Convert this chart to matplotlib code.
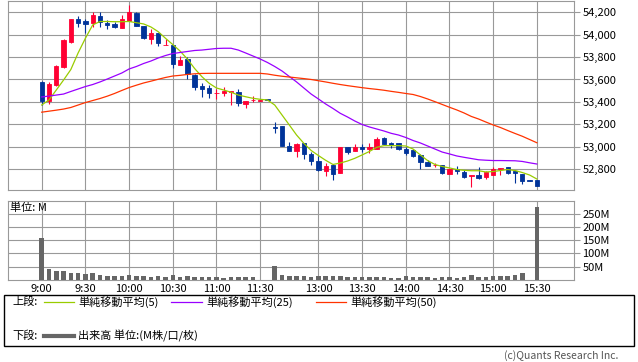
import matplotlib
matplotlib.use('Agg')
import matplotlib.pyplot as plt
from matplotlib.patches import Rectangle
from matplotlib.lines import Line2D
from matplotlib.ticker import FixedLocator, FuncFormatter, NullLocator

plt.rcParams['font.family'] = ['Noto Sans CJK JP', 'DejaVu Sans']

# ---------------- data ----------------
morning = [f"{h}:{m:02d}" for h in (9, 10) for m in range(0, 60, 5)] + [f"11:{m:02d}" for m in range(0, 35, 5)]
afternoon = [f"12:{m:02d}" for m in range(30, 60, 5)] + [f"{h}:{m:02d}" for h in (13, 14) for m in range(0, 60, 5)] + [f"15:{m:02d}" for m in range(0, 35, 5)]
times = morning + ["11:35"] + afternoon

opens = [53580, 53411, 53551, 53714, 53935, 54140, 54122, 54102, 54167, 54107,
         54096, 54062, 54125, 54196, 54078, 53962, 54012, 53905, 53905, 53730,
         53780, 53641, 53545, 53521, 53475, 53477, 53488, 53491, 53378, 53413,
         53410, 53426,
         53180, 53185, 53006, 52964, 53030, 52932, 52875, 52786, 52836, 52768,
         53000, 52961, 53000, 52979, 52982, 53074, 53033, 53030, 52978, 52970,
         52925, 52866, 52834, 52836, 52755, 52800, 52776, 52740, 52750, 52725,
         52750, 52805, 52815, 52780, 52760, 52700, 52700]
highs = [53586, 53580, 53725, 53962, 54140, 54167, 54137, 54205, 54205, 54131,
         54116, 54176, 54265, 54205, 54078, 54051, 54015, 53962, 53910, 53810,
         53804, 53646, 53571, 53551, 53512, 53530, 53497, 53515, 53408, 53455,
         53417, 53426,
         53223, 53185, 53039, 53036, 53036, 52955, 52915, 52857, 52842, 53000,
         53000, 53024, 53024, 53030, 53083, 53090, 53039, 53033, 52998, 52978,
         52933, 52884, 52857, 52836, 52805, 52826, 52790, 52745, 52816, 52780,
         52816, 52812, 52822, 52780, 52760, 52700, 52700]
lows = [53372, 53381, 53545, 53703, 53930, 54066, 54012, 54071, 54071, 54051,
        54057, 54062, 54125, 54078, 53960, 53917, 53900, 53905, 53700, 53730,
        53604, 53505, 53440, 53437, 53426, 53455, 53372, 53366, 53348, 53401,
        53408, 53417,
        53120, 53005, 52964, 52910, 52887, 52836, 52786, 52740, 52700, 52768,
        52932, 52961, 52950, 52940, 52982, 53024, 52990, 52970, 52925, 52910,
        52805, 52830, 52820, 52755, 52755, 52760, 52720, 52640, 52708, 52710,
        52745, 52745, 52755, 52675, 52670, 52695, 52645]
closes = [53408, 53560, 53723, 53953, 54140, 54102, 54096, 54176, 54113, 54087,
          54071, 54140, 54205, 54078, 53973, 54015, 53929, 53912, 53736, 53774,
          53646, 53530, 53515, 53482, 53479, 53497, 53497, 53387, 53408, 53417,
          53417, 53417,
          53168, 53005, 52964, 53027, 52932, 52875, 52792, 52827, 52756, 53000,
          52955, 52997, 52979, 53000, 53068, 53024, 53015, 52978, 52947, 52920,
          52866, 52830, 52838, 52768, 52797, 52780, 52727, 52745, 52720, 52770,
          52805, 52810, 52765, 52765, 52695, 52695, 52645]

ma5 = [53372, 53417, 53506, 53595, 53689, 53837, 53968, 54087, 54118, 54118,
       54116, 54116, 54118, 54107, 54096, 54069, 54027, 53968, 53912, 53854,
       53783, 53698, 53625, 53566, 53524, 53506, 53486, 53461, 53446, 53432,
       53423, 53417,
       53372, 53283, 53194, 53104, 53030, 52966, 52921, 52878, 52841, 52854,
       52872, 52896, 52926, 52957, 52994, 53009, 53009, 53009, 53006, 52979,
       52926, 52876, 52841, 52823, 52810, 52796, 52789, 52785, 52785, 52774,
       52778, 52787, 52796, 52787, 52769, 52747, 52711]
ma25 = [53444, 53452, 53461, 53470, 53493, 53515, 53537, 53555, 53578, 53604,
        53631, 53658, 53694, 53716, 53743, 53765, 53792, 53814, 53832, 53841,
        53850, 53859, 53863, 53870, 53877, 53879, 53879, 53863, 53837, 53810,
        53783, 53752,
        53716, 53676, 53627, 53578, 53524, 53470, 53426, 53381, 53341, 53298,
        53265, 53229, 53198, 53176, 53158, 53140, 53119, 53104, 53082, 53055,
        53033, 53006, 52979, 52952, 52935, 52917, 52905, 52894, 52883, 52879,
        52876, 52876, 52875, 52874, 52868, 52856, 52845]
ma50 = [53308, 53317, 53326, 53336, 53350, 53372, 53394, 53412, 53430, 53451,
        53475, 53502, 53528, 53549, 53569, 53585, 53602, 53618, 53631, 53637,
        53645, 53651, 53654, 53655, 53655, 53655, 53655, 53655, 53655, 53655,
        53655, 53649,
        53638, 53629, 53622, 53615, 53608, 53600, 53589, 53578, 53566, 53555,
        53545, 53536, 53527, 53519, 53512, 53504, 53494, 53485, 53475, 53466,
        53448, 53426, 53402, 53377, 53352, 53328, 53301, 53270, 53247, 53220,
        53194, 53171, 53144, 53118, 53093, 53064, 53035]

volume_m = [159, 41, 34, 34, 26, 26, 23, 26, 19, 15,
            15, 15, 19, 15, 15, 11, 15, 11, 19, 11,
            15, 11, 11, 11, 11, 8, 11, 11, 11, 11,
            1, 0,
            53, 19, 15, 15, 15, 11, 15, 15, 15, 15,
            11, 11, 11, 11, 11, 11, 8, 8, 15, 11,
            11, 11, 8, 11, 11, 8, 11, 19, 11, 11,
            15, 15, 15, 19, 26, 1, 273]

tick_labels = ["9:00", "9:30", "10:00", "10:30", "11:00", "11:30",
               "13:00", "13:30", "14:00", "14:30", "15:00", "15:30"]
price_ticks = [52800, 53000, 53200, 53400, 53600, 53800, 54000, 54200]
vol_ticks = [50, 100, 150, 200, 250]

# ---------------- styling ----------------
UP = '#FF0033'
DOWN = '#003399'
GRID = '#999999'
C5, C25, C50 = '#99CC00', '#9900FF', '#FF3300'
VOLC = '#666666'

W, H = 638, 362
fig = plt.figure(figsize=(W / 100, H / 100), dpi=100)

def fx(px):
    return px / W

def fy(py):
    return 1 - py / H

left_px, right_px = 8, 574
ax = fig.add_axes([fx(left_px), fy(190), fx(right_px - left_px), (190 - 1) / H])
axv = fig.add_axes([fx(left_px), fy(280), fx(right_px - left_px), (280 - 201) / H])

xs = list(range(len(times)))
xlim = (-4.63, 73.1)
tick_pos = [times.index(t) for t in tick_labels]

for a in (ax, axv):
    a.set_xlim(*xlim)
    a.xaxis.set_major_locator(FixedLocator(tick_pos))
    a.grid(True, color=GRID, linewidth=0.8)
    a.set_axisbelow(True)
    for s in a.spines.values():
        s.set_color(GRID)
        s.set_linewidth(0.8)
    a.yaxis.tick_right()
    a.tick_params(axis='y', colors=GRID, labelcolor='black', length=4, width=0.8,
                  labelsize=8, pad=2)
    a.tick_params(axis='x', length=0, labelsize=8, pad=3)

# candles
for i, o, h, l, c in zip(xs, opens, highs, lows, closes):
    col = UP if c >= o else DOWN
    ax.vlines(i, l, h, color=col, linewidth=0.8, zorder=2)
    ax.bar(i, max(abs(c - o), 1), bottom=min(o, c), width=0.6, color=col,
           edgecolor=col, linewidth=0.6, zorder=3)

ax.plot(xs, ma5, color=C5, linewidth=0.9, zorder=4)
ax.plot(xs, ma25, color=C25, linewidth=0.9, zorder=4)
ax.plot(xs, ma50, color=C50, linewidth=0.9, zorder=4)

ax.set_ylim(52613, 54301)
ax.yaxis.set_major_locator(FixedLocator(price_ticks))
ax.yaxis.set_major_formatter(FuncFormatter(lambda v, p: f"{v:,.0f}"))
ax.tick_params(axis='x', labelbottom=False)

# volume
axv.bar(xs, volume_m, width=0.62, color=VOLC, zorder=3)
axv.set_ylim(0, 297)
axv.yaxis.set_major_locator(FixedLocator(vol_ticks))
axv.yaxis.set_major_formatter(FuncFormatter(lambda v, p: f"{v:.0f}M"))
axv.set_xticklabels(tick_labels)
axv.text(fx(10 - left_px) / fx(right_px - left_px), 0.92, "単位: M", transform=axv.transAxes,
         fontsize=8, ha='left', va='center')

# legend box
fig.patches.append(Rectangle((fx(4), fy(346)), fx(630), 51 / H, transform=fig.transFigure,
                             facecolor='none', edgecolor='black', linewidth=1.0))
r1, r2 = fy(302), fy(336)
fig.text(fx(12), r1, "上段:", fontsize=8, ha='left', va='center')
fig.text(fx(12), r2, "下段:", fontsize=8, ha='left', va='center')
for (x0, x1, col, label) in [(44, 74, C5, "単純移動平均(5)"),
                             (171, 202, C25, "単純移動平均(25)"),
                             (316, 346, C50, "単純移動平均(50)")]:
    fig.lines.append(Line2D([fx(x0), fx(x1)], [r1, r1], transform=fig.transFigure,
                            color=col, linewidth=0.9))
    fig.text(fx(x1 + 4), r1, label, fontsize=8, ha='left', va='center')
fig.lines.append(Line2D([fx(44), fx(74)], [r2, r2], transform=fig.transFigure,
                        color=VOLC, linewidth=3))
fig.text(fx(78), r2, "出来高 単位:(M株/口/枚)", fontsize=8, ha='left', va='center')

fig.text(fx(618), fy(356), "(c)Quants Research Inc.", fontsize=7.5, ha='right',
         va='center', color='#555555')

fig.savefig('out.png', dpi=100)
